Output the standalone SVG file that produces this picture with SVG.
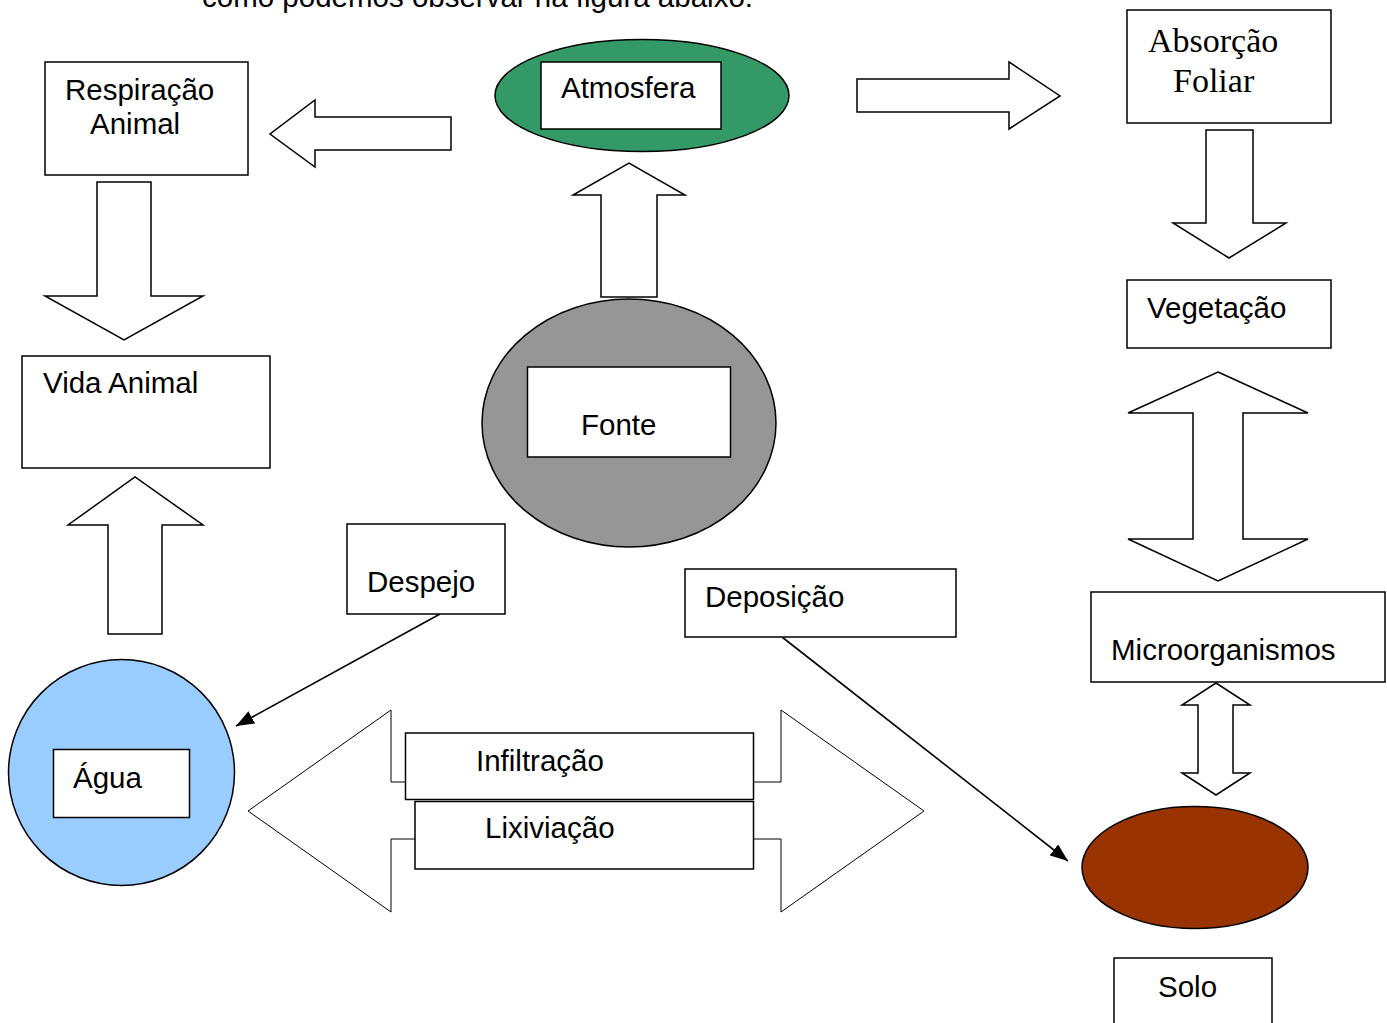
<svg xmlns="http://www.w3.org/2000/svg" width="1387" height="1023" viewBox="0 0 1387 1023">
<style>
.bx{fill:#fff;stroke:#000;stroke-width:1.5}
.ar{fill:#fff;stroke:#000;stroke-width:1.5;stroke-linejoin:miter}
.ar1{fill:#fff;stroke:#000;stroke-width:1}
.t{font-family:"Liberation Sans",Arial,sans-serif;font-size:29.5px;fill:#000}
.ts{font-family:"Liberation Serif","Times New Roman",serif;font-size:34px;fill:#000}
.ln{stroke:#000;stroke-width:1.6;fill:none}
</style>
<defs>
<marker id="ah" markerUnits="userSpaceOnUse" markerWidth="20" markerHeight="14" refX="18" refY="7" orient="auto">
<path d="M0,0 L18,7 L0,14 Z" fill="#000"/>
</marker>
</defs>
<rect width="1387" height="1023" fill="#fff"/>
<text class="t" x="202" y="7">como podemos observar na figura abaixo.</text>

<g id="connectors">
<polygon class="ar" points="451,117 315,117 315,100 270,134 315,167 315,150 451,150"/>
<polygon class="ar" points="97,182 151,182 151,296 203,296 124,340 45,296 97,296"/>
<polygon class="ar" points="108,634 162,634 162,525 203,525 135,477 68,525 108,525"/>
<polygon class="ar" points="601,297 657,297 657,195 685,195 629,163 573,195 601,195"/>
<polygon class="ar" points="857,79 1009,79 1009,62 1060,96 1009,129 1009,112 857,112"/>
<polygon class="ar" points="1206,130 1253,130 1253,223 1286,223 1229,258 1173,223 1206,223"/>
<polygon class="ar" points="1218,372 1308,413 1243,413 1243,539 1308,539 1218,581 1128,539 1193,539 1193,413 1128,413"/>
<polygon class="ar" points="1216,683 1250,705 1233,705 1233,773 1250,773 1216,795 1182,773 1198,773 1198,705 1182,705"/>
<polygon class="ar1" points="248,811 391,710 391,782 781,782 781,710 924,811 781,912 781,839 391,839 391,912"/>
<line class="ln" x1="440" y1="614" x2="236" y2="726" marker-end="url(#ah)" stroke-width="2"/>
<line class="ln" x1="782" y1="637" x2="1068" y2="861" marker-end="url(#ah)"/>
</g>

<g id="respiracao">
<rect class="bx" x="45" y="62" width="203" height="113"/>
<text class="t" x="65" y="100">Respiração</text>
<text class="t" x="90" y="134">Animal</text>
</g>

<g id="vida-animal">
<rect class="bx" x="22" y="356" width="248" height="112"/>
<text class="t" x="43" y="393">Vida Animal</text>
</g>

<g id="atmosfera">
<ellipse cx="642" cy="95.5" rx="147" ry="56" fill="#339966" stroke="#000" stroke-width="1.5"/>
<rect class="bx" x="541" y="62" width="180" height="67"/>
<text class="t" x="561" y="98">Atmosfera</text>
</g>

<g id="fonte">
<ellipse cx="629" cy="423" rx="147" ry="124" fill="#969696" stroke="#000" stroke-width="1.5"/>
<rect class="bx" x="527.5" y="367" width="203" height="90"/>
<text class="t" x="581" y="435">Fonte</text>
</g>

<g id="absorcao">
<rect class="bx" x="1127" y="10" width="204" height="113"/>
<text class="ts" x="1148" y="52">Absorção</text>
<text class="ts" x="1173" y="92">Foliar</text>
</g>

<g id="vegetacao">
<rect class="bx" x="1127" y="280" width="204" height="68"/>
<text class="t" x="1147" y="318">Vegetação</text>
</g>

<g id="microorganismos">
<rect class="bx" x="1091" y="592" width="294" height="90"/>
<text class="t" x="1111" y="660">Microorganismos</text>
</g>

<g id="despejo">
<rect class="bx" x="347" y="524" width="158" height="90"/>
<text class="t" x="367" y="592">Despejo</text>
</g>

<g id="deposicao">
<rect class="bx" x="685" y="569" width="271" height="68"/>
<text class="t" x="705" y="607">Deposição</text>
</g>

<g id="agua">
<circle cx="121.5" cy="772.5" r="113" fill="#99ccff" stroke="#000" stroke-width="1.5"/>
<rect class="bx" x="53.5" y="749.5" width="136" height="68"/>
<text class="t" x="73" y="788">Água</text>
</g>

<g id="infiltracao">
<rect class="bx" x="405.5" y="733" width="348" height="66.5"/>
<text class="t" x="476" y="771">Infiltração</text>
</g>

<g id="lixiviacao">
<rect class="bx" x="415" y="801.5" width="338.5" height="67.5" stroke-width="2.2"/>
<text class="t" x="485" y="838">Lixiviação</text>
</g>

<g id="solo">
<ellipse cx="1195" cy="867.5" rx="113" ry="61" fill="#993300" stroke="#000" stroke-width="1.5"/>
<rect class="bx" x="1114" y="958" width="158" height="80"/>
<text class="t" x="1158" y="997">Solo</text>
</g>
</svg>
